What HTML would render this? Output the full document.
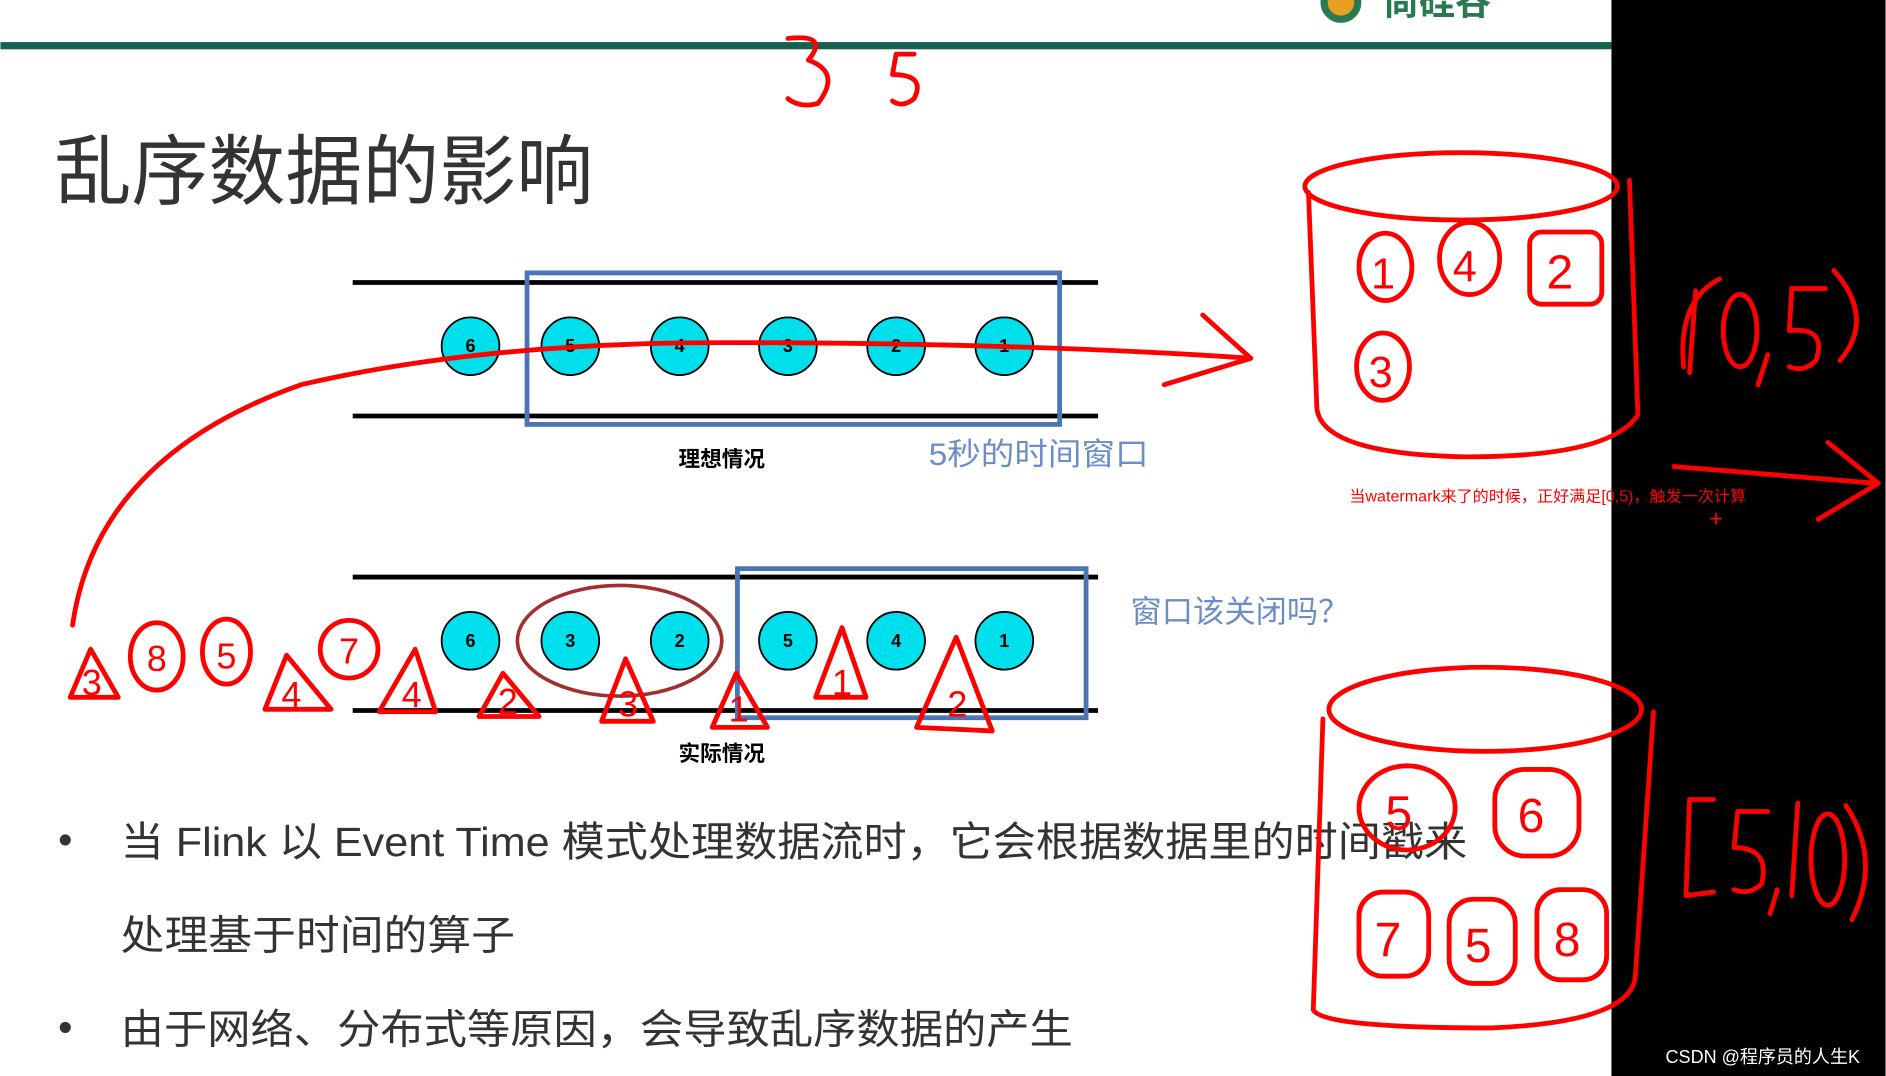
<!DOCTYPE html>
<html><head><meta charset="utf-8"><style>
html,body{margin:0;padding:0;background:#fff;}
svg{display:block;}
text{font-family:"Liberation Sans","Noto Sans CJK SC",sans-serif;}
</style></head><body>
<svg width="1886" height="1076" viewBox="0 0 1568 895" xmlns="http://www.w3.org/2000/svg">
<rect x="0" y="0" width="1568" height="895" fill="#fff"/>
<rect x="1340" y="0" width="228" height="895" fill="#000"/>
<!-- logo -->
<circle cx="1115" cy="2" r="14" fill="#e8a020" stroke="#2a7a50" stroke-width="6"/>
<text x="1150" y="12" font-size="30" fill="#2a7a50" font-weight="bold">尚硅谷</text>
<rect x="0" y="35" width="1340" height="6" fill="#16614f"/>
<text x="45" y="165" font-size="64" fill="#333" textLength="448" lengthAdjust="spacingAndGlyphs">乱序数据的影响</text>

<!-- top stream -->
<line x1="293" y1="235" x2="913" y2="235" stroke="#000" stroke-width="4"/>
<line x1="293" y1="346" x2="913" y2="346" stroke="#000" stroke-width="4"/>
<rect x="438" y="227" width="443" height="126" fill="none" stroke="#4a76b8" stroke-width="4"/>
<g font-size="15" font-weight="bold" text-anchor="middle" fill="#000">
<g stroke="#000" stroke-width="1.5" fill="#00e0ec">
<circle cx="391" cy="288" r="24"/><circle cx="474" cy="288" r="24"/><circle cx="565" cy="288" r="24"/>
<circle cx="655" cy="288" r="24"/><circle cx="745" cy="288" r="24"/><circle cx="835" cy="288" r="24"/>
</g>
<text x="391" y="293">6</text><text x="474" y="293">5</text><text x="565" y="293">4</text>
<text x="655" y="293">3</text><text x="745" y="293">2</text><text x="835" y="293">1</text>
</g>
<text x="600" y="388" font-size="18" font-weight="bold" text-anchor="middle">理想情况</text>
<text x="772" y="387" font-size="26" fill="#6c8ec8" textLength="183" lengthAdjust="spacingAndGlyphs">5秒的时间窗口</text>

<!-- bottom stream -->
<line x1="293" y1="480" x2="913" y2="480" stroke="#000" stroke-width="4"/>
<line x1="293" y1="591" x2="913" y2="591" stroke="#000" stroke-width="4"/>
<rect x="613" y="473" width="290" height="124" fill="none" stroke="#4a76b8" stroke-width="4"/>
<ellipse cx="515" cy="533" rx="85" ry="46" fill="none" stroke="#a03030" stroke-width="3"/>
<g font-size="15" font-weight="bold" text-anchor="middle" fill="#000">
<g stroke="#000" stroke-width="1.5" fill="#00e0ec">
<circle cx="391" cy="533" r="24"/><circle cx="474" cy="533" r="24"/><circle cx="565" cy="533" r="24"/>
<circle cx="655" cy="533" r="24"/><circle cx="745" cy="533" r="24"/><circle cx="835" cy="533" r="24"/>
</g>
<text x="391" y="538">6</text><text x="474" y="538">3</text><text x="565" y="538">2</text>
<text x="655" y="538">5</text><text x="745" y="538">4</text><text x="835" y="538">1</text>
</g>
<text x="600" y="633" font-size="18" font-weight="bold" text-anchor="middle">实际情况</text>
<text x="940" y="518" font-size="26" fill="#6c8ec8" textLength="182" lengthAdjust="spacingAndGlyphs">窗口该关闭吗？</text>

<!-- bullets -->
<g font-size="34" fill="#333">
<text x="48" y="710">•</text>
<text x="100" y="712" textLength="1120" lengthAdjust="spacingAndGlyphs">当 Flink 以 Event Time 模式处理数据流时，它会根据数据里的时间戳来</text>
<text x="100" y="790" textLength="328" lengthAdjust="spacingAndGlyphs">处理基于时间的算子</text>
<text x="48" y="866">•</text>
<text x="100" y="868" textLength="792" lengthAdjust="spacingAndGlyphs">由于网络、分布式等原因，会导致乱序数据的产生</text>
</g>

<!-- red handwriting -->
<g fill="none" stroke="#f00" stroke-width="4" stroke-linecap="round" stroke-linejoin="round">
<path d="M655 32 Q690 28 672 50 Q700 60 680 86 Q665 90 655 82"/>
<path d="M760 45 L745 45 L742 62 Q770 62 760 82 Q750 90 742 84"/>
<path d="M60 520 Q80 380 250 320 Q400 285 600 285 Q850 285 1040 298"/>
<path d="M1000 262 L1040 298 L968 320"/>
<!-- cylinder 1 -->
<ellipse cx="1215" cy="155" rx="130" ry="28"/>
<path d="M1088 160 L1095 340 Q1100 378 1220 380 Q1340 380 1362 345 L1355 150"/>
<ellipse cx="1152" cy="222" rx="22" ry="28"/><text x="1140" y="240" font-size="36" fill="#f00" stroke="none">1</text>
<ellipse cx="1222" cy="215" rx="25" ry="30"/><text x="1208" y="234" font-size="36" fill="#f00" stroke="none">4</text>
<rect x="1272" y="193" width="60" height="60" rx="10"/><text x="1286" y="240" font-size="40" fill="#f00" stroke="none">2</text>
<ellipse cx="1150" cy="305" rx="22" ry="28"/><text x="1138" y="322" font-size="36" fill="#f00" stroke="none">3</text>
<path d="M1430 232 Q1395 250 1400 305"/><path d="M1410 242 L1405 310"/>
<ellipse cx="1447" cy="275" rx="14" ry="30"/>
<path d="M1470 295 L1462 320"/>
<path d="M1518 240 L1490 240 L1488 275 Q1520 272 1510 300 Q1500 310 1488 305"/>
<path d="M1525 225 Q1560 265 1530 300"/>
<path d="M1392 388 Q1480 395 1560 402"/><path d="M1520 368 L1562 402 L1512 432"/>
<!-- cylinder 2 -->
<ellipse cx="1235" cy="590" rx="130" ry="35"/>
<path d="M1100 598 L1092 840 Q1100 855 1240 855 Q1360 850 1360 810 L1375 592"/>
<ellipse cx="1170" cy="672" rx="40" ry="35"/><text x="1152" y="690" font-size="40" fill="#f00" stroke="none">5</text>
<rect x="1243" y="640" width="70" height="72" rx="25"/><text x="1262" y="692" font-size="40" fill="#f00" stroke="none">6</text>
<rect x="1130" y="742" width="58" height="70" rx="20"/><text x="1143" y="795" font-size="40" fill="#f00" stroke="none">7</text>
<rect x="1205" y="748" width="55" height="70" rx="20"/><text x="1218" y="800" font-size="40" fill="#f00" stroke="none">5</text>
<rect x="1278" y="740" width="58" height="75" rx="20"/><text x="1292" y="795" font-size="40" fill="#f00" stroke="none">8</text>
<path d="M1425 665 L1405 665 L1402 745 L1425 742"/>
<path d="M1470 675 L1445 675 L1442 705 Q1472 705 1465 735 Q1455 745 1442 740"/>
<path d="M1478 740 L1472 760"/>
<path d="M1495 668 L1490 745"/>
<ellipse cx="1520" cy="715" rx="14" ry="38"/>
<path d="M1535 670 Q1565 715 1540 765"/>
<!-- bottom triangles & numbers -->
<path d="M58 580 L75 540 L98 580 Z"/>
<ellipse cx="130" cy="546" rx="22" ry="28"/><ellipse cx="188" cy="542" rx="20" ry="27"/>
<path d="M220 590 L238 545 L275 590 Z"/>
<ellipse cx="290" cy="540" rx="24" ry="24"/>
<path d="M315 592 L345 540 L362 592 Z"/>
<path d="M398 596 L418 560 L448 596 Z"/>
<path d="M500 600 L520 548 L543 600 Z"/>
<path d="M592 605 L612 560 L638 605 Z"/>
<path d="M678 580 L700 522 L720 580 Z"/>
<path d="M762 605 L795 530 L825 608 Z"/>
</g>
<g fill="#f00" font-size="30" text-anchor="middle">
<text x="76" y="578">3</text><text x="130" y="558">8</text><text x="188" y="556">5</text>
<text x="242" y="588">4</text><text x="290" y="552">7</text><text x="342" y="588">4</text>
<text x="422" y="594">2</text><text x="522" y="596">3</text><text x="614" y="600">1</text>
<text x="700" y="578">1</text><text x="796" y="596">2</text>
</g>
<text x="1122" y="417" font-size="13" fill="#f00" textLength="330" lengthAdjust="spacingAndGlyphs">当watermark来了的时候，正好满足[0,5)，触发一次计算</text>
<text x="1427" y="438" font-size="20" fill="#f00" text-anchor="middle">+</text>
<text x="1385" y="884" font-size="15" fill="#fff">CSDN @程序员的人生K</text>
</svg>
</body></html>
